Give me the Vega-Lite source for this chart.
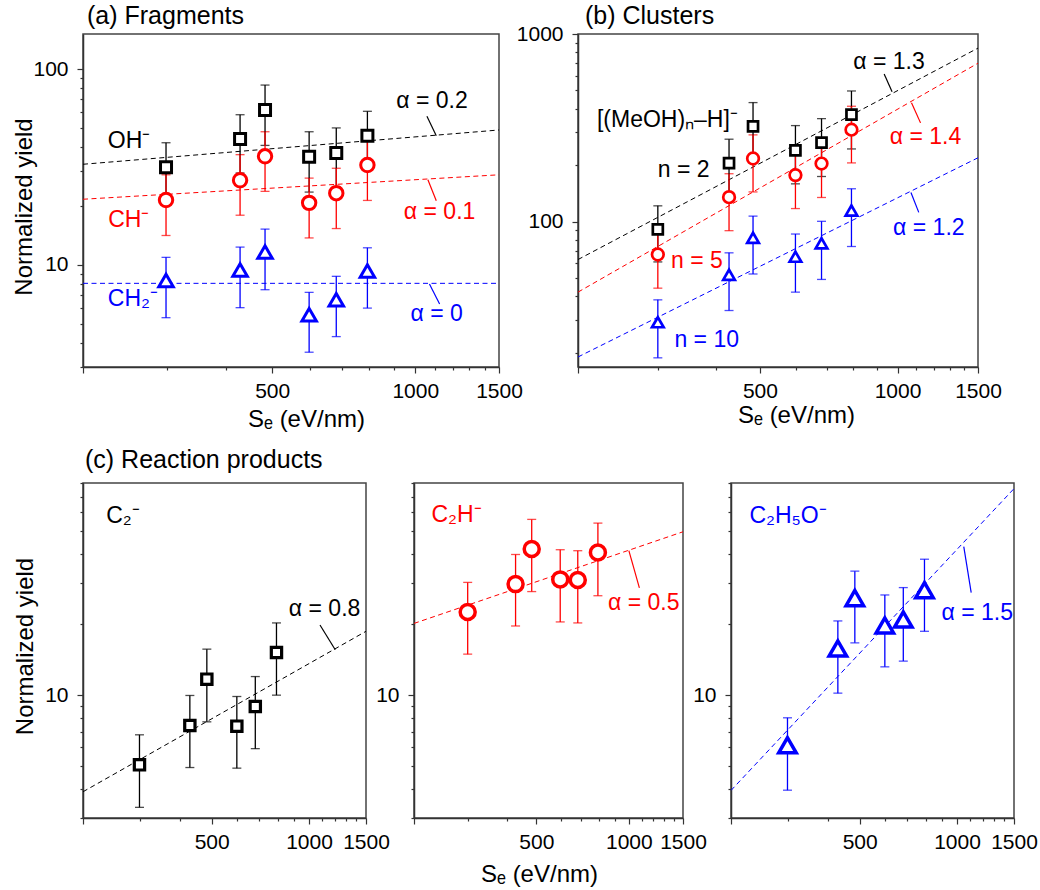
{
"$schema": "https://vega.github.io/schema/vega-lite/v6.json",
"padding": {"left": 11, "top": 2, "right": 5, "bottom": 2},
"background": "white",
"config": {
  "font": "Liberation Sans",
  "view": {"stroke": "#444", "strokeWidth": 1.5},
  "axis": {"labelFont": "Liberation Sans", "labelFontSize": 21, "labelColor": "#000", "titleFont": "Liberation Sans", "titleFontSize": 24, "titleFontWeight": "normal", "titleColor": "#000", "domainColor": "#333", "domainWidth": 1.5, "tickColor": "#333", "tickWidth": 1.2, "grid": false, "labelPadding": 8, "titlePadding": 2, "labelFlush": false, "labelOverlap": false, "tickSize": 6},
  "axisX": {"labelPadding": 7},
  "axisY": {"labelPadding": 9},
  "title": {"font": "Liberation Sans", "fontSize": 25, "fontWeight": "normal", "anchor": "start", "frame": "group", "color": "#000"},
  "text": {"font": "Liberation Sans"}
},
"datasets": {
  "pts": [
    {"p":"a","s":"OH","x":299,"y":31.5,"lo":21,"hi":42},
    {"p":"a","s":"OH","x":428,"y":43.9,"lo":29.4,"hi":58.4},
    {"p":"a","s":"OH","x":483,"y":61.7,"lo":40.7,"hi":82.8},
    {"p":"a","s":"OH","x":598,"y":35.6,"lo":23.5,"hi":47.8},
    {"p":"a","s":"OH","x":682,"y":37.2,"lo":25,"hi":50},
    {"p":"a","s":"OH","x":793,"y":45.6,"lo":30.5,"hi":60.8},
    {"p":"a","s":"CH","x":299,"y":21.4,"lo":14.1,"hi":28.8},
    {"p":"a","s":"CH","x":428,"y":27,"lo":17.9,"hi":36.5},
    {"p":"a","s":"CH","x":483,"y":35.8,"lo":23.7,"hi":47.8},
    {"p":"a","s":"CH","x":598,"y":20.7,"lo":13.7,"hi":27.7},
    {"p":"a","s":"CH","x":682,"y":23.2,"lo":15.3,"hi":31.1},
    {"p":"a","s":"CH","x":793,"y":32.3,"lo":21.3,"hi":43},
    {"p":"a","s":"CH2","x":299,"y":8.3,"lo":5.36,"hi":10.9},
    {"p":"a","s":"CH2","x":428,"y":9.4,"lo":6.03,"hi":12.3},
    {"p":"a","s":"CH2","x":483,"y":11.6,"lo":7.45,"hi":15.2},
    {"p":"a","s":"CH2","x":598,"y":5.55,"lo":3.57,"hi":7.22},
    {"p":"a","s":"CH2","x":682,"y":6.62,"lo":4.29,"hi":8.72},
    {"p":"a","s":"CH2","x":793,"y":9.29,"lo":6.0,"hi":12.2},
    {"p":"b","s":"n2","x":299,"y":91,"lo":61,"hi":121.4},
    {"p":"b","s":"n2","x":428,"y":205,"lo":135,"hi":275},
    {"p":"b","s":"n2","x":483,"y":322,"lo":213,"hi":431},
    {"p":"b","s":"n2","x":598,"y":240,"lo":159,"hi":325},
    {"p":"b","s":"n2","x":682,"y":264,"lo":174,"hi":354},
    {"p":"b","s":"n2","x":793,"y":372,"lo":244,"hi":497},
    {"p":"b","s":"n5","x":299,"y":66.8,"lo":44.2,"hi":89.4},
    {"p":"b","s":"n5","x":428,"y":135,"lo":89.5,"hi":180},
    {"p":"b","s":"n5","x":483,"y":217,"lo":144,"hi":290},
    {"p":"b","s":"n5","x":598,"y":177,"lo":117.4,"hi":237},
    {"p":"b","s":"n5","x":682,"y":204,"lo":134.5,"hi":273},
    {"p":"b","s":"n5","x":793,"y":309,"lo":205.6,"hi":412},
    {"p":"b","s":"n10","x":299,"y":29.1,"lo":18.8,"hi":38.3},
    {"p":"b","s":"n10","x":428,"y":52.1,"lo":33.6,"hi":68.2},
    {"p":"b","s":"n10","x":483,"y":82,"lo":52.6,"hi":107},
    {"p":"b","s":"n10","x":598,"y":65,"lo":42.1,"hi":85.9},
    {"p":"b","s":"n10","x":682,"y":76.7,"lo":49.2,"hi":100.4},
    {"p":"b","s":"n10","x":793,"y":114.6,"lo":73.7,"hi":149.7},
    {"p":"c1","s":"C2","x":299,"y":5.05,"lo":3.33,"hi":6.78},
    {"p":"c1","s":"C2","x":428,"y":7.43,"lo":4.92,"hi":9.97},
    {"p":"c1","s":"C2","x":483,"y":11.7,"lo":7.7,"hi":15.7},
    {"p":"c1","s":"C2","x":598,"y":7.38,"lo":4.89,"hi":9.87},
    {"p":"c1","s":"C2","x":682,"y":8.95,"lo":5.92,"hi":12.0},
    {"p":"c1","s":"C2","x":793,"y":15.2,"lo":10.0,"hi":20.3},
    {"p":"c2","s":"C2H","x":299,"y":22.6,"lo":14.95,"hi":30.2},
    {"p":"c2","s":"C2H","x":428,"y":29.7,"lo":19.7,"hi":39.7},
    {"p":"c2","s":"C2H","x":483,"y":41.9,"lo":27.6,"hi":56},
    {"p":"c2","s":"C2H","x":598,"y":31.1,"lo":20.5,"hi":41.6},
    {"p":"c2","s":"C2H","x":682,"y":30.9,"lo":20.3,"hi":41.2},
    {"p":"c2","s":"C2H","x":793,"y":40.5,"lo":26.5,"hi":54},
    {"p":"c3","s":"C2H5O","x":299,"y":6.12,"lo":3.94,"hi":8.01},
    {"p":"c3","s":"C2H5O","x":428,"y":15.8,"lo":10.2,"hi":20.7},
    {"p":"c3","s":"C2H5O","x":483,"y":25.9,"lo":16.7,"hi":33.7},
    {"p":"c3","s":"C2H5O","x":598,"y":19.8,"lo":13.2,"hi":26.7},
    {"p":"c3","s":"C2H5O","x":682,"y":21.0,"lo":13.96,"hi":28.7},
    {"p":"c3","s":"C2H5O","x":793,"y":28.0,"lo":18.7,"hi":37.9}
  ],
  "fits": [
    {"p":"a","s":"OH","x":200,"y":32.6},{"p":"a","s":"OH","x":1500,"y":48.8},
    {"p":"a","s":"CH","x":200,"y":21.6},{"p":"a","s":"CH","x":1500,"y":28.8},
    {"p":"a","s":"CH2","x":200,"y":8.03},{"p":"a","s":"CH2","x":1500,"y":8.03},
    {"p":"b","s":"n2","x":200,"y":62.8},{"p":"b","s":"n2","x":1500,"y":841},
    {"p":"b","s":"n5","x":200,"y":42.1},{"p":"b","s":"n5","x":1500,"y":699},
    {"p":"b","s":"n10","x":200,"y":19.0},{"p":"b","s":"n10","x":1500,"y":219},
    {"p":"c1","s":"C2","x":200,"y":3.88},{"p":"c1","s":"C2","x":1500,"y":18.7},
    {"p":"c2","s":"C2H","x":200,"y":20.2},{"p":"c2","s":"C2H","x":1500,"y":49.6},
    {"p":"c3","s":"C2H5O","x":200,"y":3.93},{"p":"c3","s":"C2H5O","x":1500,"y":75.7}
  ],
  "leaders": [
    {"p":"a","s":"OH","x":1058,"y":57.3,"x2":1107,"y2":45.6},
    {"p":"a","s":"CH","x":1063,"y":27.2,"x2":1107,"y2":21.2},
    {"p":"a","s":"CH2","x":1071,"y":7.97,"x2":1125,"y2":6.3},
    {"p":"b","s":"n2","x":935,"y":612,"x2":973,"y2":492},
    {"p":"b","s":"n5","x":1073,"y":430,"x2":1123,"y2":336},
    {"p":"b","s":"n10","x":1070,"y":143,"x2":1113,"y2":112},
    {"p":"c1","s":"C2","x":1081,"y":19.9,"x2":1205,"y2":15.6},
    {"p":"c2","s":"C2H","x":1000,"y":41.2,"x2":1082,"y2":28.6},
    {"p":"c3","s":"C2H5O","x":1049,"y":42.9,"x2":1106,"y2":27.3}
  ],
  "labels": [
    {"p":"a","s":"OH","x":225.5,"y":43,"t":"OH⁻"},
    {"p":"a","s":"CH","x":226,"y":17.0,"t":"CH⁻"},
    {"p":"a","s":"CH2","x":225.5,"y":6.68,"t":"CH₂⁻"},
    {"p":"a","s":"OH","x":912,"y":68.9,"t":"α = 0.2"},
    {"p":"a","s":"CH","x":946,"y":18.5,"t":"α = 0.1"},
    {"p":"a","s":"CH2","x":977,"y":5.6,"t":"α = 0"},
    {"p":"b","s":"n2","x":220,"y":348,"t":"[(MeOH)ₙ–H]⁻"},
    {"p":"b","s":"n2","x":299,"y":188,"t":"n = 2"},
    {"p":"b","s":"n5","x":319.6,"y":61.8,"t":"n = 5"},
    {"p":"b","s":"n10","x":325,"y":23.4,"t":"n = 10"},
    {"p":"b","s":"n2","x":800,"y":713,"t":"α = 1.3"},
    {"p":"b","s":"n5","x":962,"y":282,"t":"α = 1.4"},
    {"p":"b","s":"n10","x":978,"y":92.9,"t":"α = 1.2"},
    {"p":"c1","s":"C2","x":236,"y":58.1,"t":"C₂⁻"},
    {"p":"c1","s":"C2","x":866,"y":23.2,"t":"α = 0.8"},
    {"p":"c2","s":"C2H","x":228,"y":58.5,"t":"C₂H⁻"},
    {"p":"c2","s":"C2H","x":855,"y":24.7,"t":"α = 0.5"},
    {"p":"c3","s":"C2H5O","x":228,"y":57.8,"t":"C₂H₅O⁻"},
    {"p":"c3","s":"C2H5O","x":895,"y":22.3,"t":"α = 1.5"}
  ]
},
"spacing": 14,
"vconcat": [
 {"hconcat": [
  {"width": 416, "height": 333,
   "title": {"text": "(a) Fragments", "dx": 4, "offset": 5},
   "encoding": {
     "x": {"field": "x", "type": "quantitative", "scale": {"type": "log", "domain": [200, 1500], "nice": false},
       "axis": {"title": "Sₑ (eV/nm)", "values": [200,300,400,500,600,700,800,900,1000,1100,1200,1300,1400,1500], "format": "d", "labelExpr": "(datum.value==500||datum.value==1000||datum.value==1500)?datum.label:''", "tickSize": {"condition": {"test": "datum.value==200||datum.value==500||datum.value==1000||datum.value==1500", "value": 6}, "value": 3}, "titleX": 223, "titleY": 59, "titleBaseline": "alphabetic"}},
     "y": {"field": "y", "type": "quantitative", "scale": {"type": "log", "domain": [3, 151], "nice": false},
       "axis": {"title": "Normalized yield", "values": [3,4,5,6,7,8,9,10,20,30,40,50,60,70,80,90,100], "format": "d", "labelExpr": "(datum.value==10||datum.value==100)?datum.label:''", "tickSize": {"condition": {"test": "datum.value==10||datum.value==100", "value": 6}, "value": 3}, "titleX": -46.5, "titleY": 172.5}},
     "color": {"field": "s", "type": "nominal", "scale": {"domain": ["OH","CH","CH2","n2","n5","n10","C2","C2H","C2H5O"], "range": ["#000000","#ff0000","#0000ff","#000000","#ff0000","#0000ff","#000000","#ff0000","#0000ff"]}, "legend": null}
   },
   "layer": [
    {"data": {"name": "fits"}, "transform": [{"filter": "datum.p=='a'"}],
     "mark": {"type": "line", "strokeDash": [5, 3.5], "strokeWidth": 1, "clip": true},
     "encoding": {"detail": {"field": "s"}}},
    {"data": {"name": "leaders"}, "transform": [{"filter": "datum.p=='a'"}],
     "mark": {"type": "rule", "strokeWidth": 1.2},
     "encoding": {"x2": {"field": "x2"}, "y2": {"field": "y2"}}},
    {"data": {"name": "pts"}, "transform": [{"filter": "datum.p=='a'"}],
     "mark": {"type": "errorbar", "thickness": 1.3, "ticks": {"size": 9}},
     "encoding": {"y": {"field": "lo", "type": "quantitative", "scale": {"type": "log", "domain": [3, 151], "nice": false},
       "axis": {"title": "Normalized yield", "values": [3,4,5,6,7,8,9,10,20,30,40,50,60,70,80,90,100], "format": "d", "labelExpr": "(datum.value==10||datum.value==100)?datum.label:''", "tickSize": {"condition": {"test": "datum.value==10||datum.value==100", "value": 6}, "value": 3}, "titleX": -46.5, "titleY": 172.5}},
      "y2": {"field": "hi"}}},
    {"data": {"name": "pts"}, "transform": [{"filter": "datum.p=='a'"}],
     "mark": {"type": "point", "filled": false, "fill": "white", "opacity": 1, "strokeWidth": 3},
     "encoding": {
      "shape": {"field": "s", "type": "nominal", "scale": {"domain": ["OH","CH","CH2","n2","n5","n10","C2","C2H","C2H5O"], "range": ["square","circle","triangle-up","square","circle","triangle-up","square","circle","triangle-up"]}, "legend": null},
      "size": {"field": "s", "type": "nominal", "scale": {"type": "ordinal", "domain": ["OH","CH","CH2","n2","n5","n10","C2","C2H","C2H5O"], "range": [121,180,210,100,135,135,106,225,306]}, "legend": null}}},
    {"data": {"name": "labels"}, "transform": [{"filter": "datum.p=='a'"}],
     "mark": {"type": "text", "align": "left", "baseline": "middle", "fontSize": 23},
     "encoding": {"text": {"field": "t"}}}
   ]},
  {"width": 400, "height": 333,
   "title": {"text": "(b) Clusters", "dx": 7, "offset": -5.5},
   "encoding": {
     "x": {"field": "x", "type": "quantitative", "scale": {"type": "log", "domain": [200, 1500], "nice": false},
       "axis": {"title": "Sₑ (eV/nm)", "values": [200,300,400,500,600,700,800,900,1000,1100,1200,1300,1400,1500], "format": "d", "labelExpr": "(datum.value==500||datum.value==1000||datum.value==1500)?datum.label:''", "tickSize": {"condition": {"test": "datum.value==200||datum.value==500||datum.value==1000||datum.value==1500", "value": 6}, "value": 3}, "titleX": 218, "titleY": 55, "titleBaseline": "alphabetic"}},
     "y": {"field": "y", "type": "quantitative", "scale": {"type": "log", "domain": [16.8, 1000], "nice": false},
       "axis": {"title": null, "values": [20,30,40,50,60,70,80,90,100,200,300,400,500,600,700,800,900,1000], "format": "d", "labelExpr": "(datum.value==100||datum.value==1000)?datum.label:''", "tickSize": {"condition": {"test": "datum.value==100||datum.value==1000", "value": 6}, "value": 3}}},
     "color": {"field": "s", "type": "nominal", "scale": {"domain": ["OH","CH","CH2","n2","n5","n10","C2","C2H","C2H5O"], "range": ["#000000","#ff0000","#0000ff","#000000","#ff0000","#0000ff","#000000","#ff0000","#0000ff"]}, "legend": null}
   },
   "layer": [
    {"data": {"name": "fits"}, "transform": [{"filter": "datum.p=='b'"}],
     "mark": {"type": "line", "strokeDash": [5, 3.5], "strokeWidth": 1, "clip": true},
     "encoding": {"detail": {"field": "s"}}},
    {"data": {"name": "leaders"}, "transform": [{"filter": "datum.p=='b'"}],
     "mark": {"type": "rule", "strokeWidth": 1.2},
     "encoding": {"x2": {"field": "x2"}, "y2": {"field": "y2"}}},
    {"data": {"name": "pts"}, "transform": [{"filter": "datum.p=='b'"}],
     "mark": {"type": "errorbar", "thickness": 1.3, "ticks": {"size": 9}},
     "encoding": {"y": {"field": "lo", "type": "quantitative", "scale": {"type": "log", "domain": [16.8, 1000], "nice": false},
       "axis": {"title": null, "values": [20,30,40,50,60,70,80,90,100,200,300,400,500,600,700,800,900,1000], "format": "d", "labelExpr": "(datum.value==100||datum.value==1000)?datum.label:''", "tickSize": {"condition": {"test": "datum.value==100||datum.value==1000", "value": 6}, "value": 3}}},
      "y2": {"field": "hi"}}},
    {"data": {"name": "pts"}, "transform": [{"filter": "datum.p=='b'"}],
     "mark": {"type": "point", "filled": false, "fill": "white", "opacity": 1, "strokeWidth": 2.7},
     "encoding": {
      "shape": {"field": "s", "type": "nominal", "scale": {"domain": ["OH","CH","CH2","n2","n5","n10","C2","C2H","C2H5O"], "range": ["square","circle","triangle-up","square","circle","triangle-up","square","circle","triangle-up"]}, "legend": null},
      "size": {"field": "s", "type": "nominal", "scale": {"type": "ordinal", "domain": ["OH","CH","CH2","n2","n5","n10","C2","C2H","C2H5O"], "range": [121,180,210,100,135,135,106,225,306]}, "legend": null}}},
    {"data": {"name": "labels"}, "transform": [{"filter": "datum.p=='b'"}],
     "mark": {"type": "text", "align": "left", "baseline": "middle", "fontSize": 23},
     "encoding": {"text": {"field": "t"}}}
   ]}
 ], "spacing": 79, "bounds": "flush"},
 {"hconcat": [
  {"width": 283, "height": 335,
   "title": {"text": "(c) Reaction products", "dx": 2, "offset": -0.5},
   "encoding": {
     "x": {"field": "x", "type": "quantitative", "scale": {"type": "log", "domain": [200, 1500], "nice": false},
       "axis": {"title": null, "values": [200,300,400,500,600,700,800,900,1000,1100,1200,1300,1400,1500], "format": "d", "labelExpr": "(datum.value==500||datum.value==1000||datum.value==1500)?datum.label:''", "tickSize": {"condition": {"test": "datum.value==200||datum.value==500||datum.value==1000||datum.value==1500", "value": 6}, "value": 3}}},
     "y": {"field": "y", "type": "quantitative", "scale": {"type": "log", "domain": [3, 80], "nice": false},
       "axis": {"title": "Normalized yield", "values": [3,4,5,6,7,8,9,10,20,30,40,50,60,70,80], "format": "d", "labelExpr": "(datum.value==10)?datum.label:''", "tickSize": {"condition": {"test": "datum.value==10", "value": 6}, "value": 3}, "titleX": -45.5, "titleY": 163}},
     "color": {"field": "s", "type": "nominal", "scale": {"domain": ["OH","CH","CH2","n2","n5","n10","C2","C2H","C2H5O"], "range": ["#000000","#ff0000","#0000ff","#000000","#ff0000","#0000ff","#000000","#ff0000","#0000ff"]}, "legend": null}
   },
   "layer": [
    {"data": {"name": "fits"}, "transform": [{"filter": "datum.p=='c1'"}],
     "mark": {"type": "line", "strokeDash": [5, 3.5], "strokeWidth": 1, "clip": true},
     "encoding": {"detail": {"field": "s"}}},
    {"data": {"name": "leaders"}, "transform": [{"filter": "datum.p=='c1'"}],
     "mark": {"type": "rule", "strokeWidth": 1.2},
     "encoding": {"x2": {"field": "x2"}, "y2": {"field": "y2"}}},
    {"data": {"name": "pts"}, "transform": [{"filter": "datum.p=='c1'"}],
     "mark": {"type": "errorbar", "thickness": 1.3, "ticks": {"size": 9}},
     "encoding": {"y": {"field": "lo", "type": "quantitative", "scale": {"type": "log", "domain": [3, 80], "nice": false},
       "axis": {"title": "Normalized yield", "values": [3,4,5,6,7,8,9,10,20,30,40,50,60,70,80], "format": "d", "labelExpr": "(datum.value==10)?datum.label:''", "tickSize": {"condition": {"test": "datum.value==10", "value": 6}, "value": 3}, "titleX": -45.5, "titleY": 163}},
      "y2": {"field": "hi"}}},
    {"data": {"name": "pts"}, "transform": [{"filter": "datum.p=='c1'"}],
     "mark": {"type": "point", "filled": false, "fill": "white", "opacity": 1, "strokeWidth": 3.2},
     "encoding": {
      "shape": {"field": "s", "type": "nominal", "scale": {"domain": ["OH","CH","CH2","n2","n5","n10","C2","C2H","C2H5O"], "range": ["square","circle","triangle-up","square","circle","triangle-up","square","circle","triangle-up"]}, "legend": null},
      "size": {"field": "s", "type": "nominal", "scale": {"type": "ordinal", "domain": ["OH","CH","CH2","n2","n5","n10","C2","C2H","C2H5O"], "range": [121,180,210,100,135,135,106,225,306]}, "legend": null}}},
    {"data": {"name": "labels"}, "transform": [{"filter": "datum.p=='c1'"}],
     "mark": {"type": "text", "align": "left", "baseline": "middle", "fontSize": 23},
     "encoding": {"text": {"field": "t"}}}
   ]},
  {"width": 269, "height": 335,
   "encoding": {
     "x": {"field": "x", "type": "quantitative", "scale": {"type": "log", "domain": [200, 1500], "nice": false},
       "axis": {"title": "Sₑ (eV/nm)", "values": [200,300,400,500,600,700,800,900,1000,1100,1200,1300,1400,1500], "format": "d", "labelExpr": "(datum.value==500||datum.value==1000||datum.value==1500)?datum.label:''", "tickSize": {"condition": {"test": "datum.value==200||datum.value==500||datum.value==1000||datum.value==1500", "value": 6}, "value": 3}, "titleX": 125, "titleY": 63, "titleBaseline": "alphabetic"}},
     "y": {"field": "y", "type": "quantitative", "scale": {"type": "log", "domain": [3, 80], "nice": false},
       "axis": {"title": null, "values": [3,4,5,6,7,8,9,10,20,30,40,50,60,70,80], "format": "d", "labelExpr": "(datum.value==10)?datum.label:''", "tickSize": {"condition": {"test": "datum.value==10", "value": 6}, "value": 3}}},
     "color": {"field": "s", "type": "nominal", "scale": {"domain": ["OH","CH","CH2","n2","n5","n10","C2","C2H","C2H5O"], "range": ["#000000","#ff0000","#0000ff","#000000","#ff0000","#0000ff","#000000","#ff0000","#0000ff"]}, "legend": null}
   },
   "layer": [
    {"data": {"name": "fits"}, "transform": [{"filter": "datum.p=='c2'"}],
     "mark": {"type": "line", "strokeDash": [5, 3.5], "strokeWidth": 1, "clip": true},
     "encoding": {"detail": {"field": "s"}}},
    {"data": {"name": "leaders"}, "transform": [{"filter": "datum.p=='c2'"}],
     "mark": {"type": "rule", "strokeWidth": 1.2},
     "encoding": {"x2": {"field": "x2"}, "y2": {"field": "y2"}}},
    {"data": {"name": "pts"}, "transform": [{"filter": "datum.p=='c2'"}],
     "mark": {"type": "errorbar", "thickness": 1.3, "ticks": {"size": 9}},
     "encoding": {"y": {"field": "lo", "type": "quantitative", "scale": {"type": "log", "domain": [3, 80], "nice": false},
       "axis": {"title": null, "values": [3,4,5,6,7,8,9,10,20,30,40,50,60,70,80], "format": "d", "labelExpr": "(datum.value==10)?datum.label:''", "tickSize": {"condition": {"test": "datum.value==10", "value": 6}, "value": 3}}},
      "y2": {"field": "hi"}}},
    {"data": {"name": "pts"}, "transform": [{"filter": "datum.p=='c2'"}],
     "mark": {"type": "point", "filled": false, "fill": "white", "opacity": 1, "strokeWidth": 3.5},
     "encoding": {
      "shape": {"field": "s", "type": "nominal", "scale": {"domain": ["OH","CH","CH2","n2","n5","n10","C2","C2H","C2H5O"], "range": ["square","circle","triangle-up","square","circle","triangle-up","square","circle","triangle-up"]}, "legend": null},
      "size": {"field": "s", "type": "nominal", "scale": {"type": "ordinal", "domain": ["OH","CH","CH2","n2","n5","n10","C2","C2H","C2H5O"], "range": [121,180,210,100,135,135,106,225,306]}, "legend": null}}},
    {"data": {"name": "labels"}, "transform": [{"filter": "datum.p=='c2'"}],
     "mark": {"type": "text", "align": "left", "baseline": "middle", "fontSize": 23},
     "encoding": {"text": {"field": "t"}}}
   ]},
  {"width": 283, "height": 335,
   "encoding": {
     "x": {"field": "x", "type": "quantitative", "scale": {"type": "log", "domain": [200, 1500], "nice": false},
       "axis": {"title": null, "values": [200,300,400,500,600,700,800,900,1000,1100,1200,1300,1400,1500], "format": "d", "labelExpr": "(datum.value==500||datum.value==1000||datum.value==1500)?datum.label:''", "tickSize": {"condition": {"test": "datum.value==200||datum.value==500||datum.value==1000||datum.value==1500", "value": 6}, "value": 3}}},
     "y": {"field": "y", "type": "quantitative", "scale": {"type": "log", "domain": [3, 80], "nice": false},
       "axis": {"title": null, "values": [3,4,5,6,7,8,9,10,20,30,40,50,60,70,80], "format": "d", "labelExpr": "(datum.value==10)?datum.label:''", "tickSize": {"condition": {"test": "datum.value==10", "value": 6}, "value": 3}}},
     "color": {"field": "s", "type": "nominal", "scale": {"domain": ["OH","CH","CH2","n2","n5","n10","C2","C2H","C2H5O"], "range": ["#000000","#ff0000","#0000ff","#000000","#ff0000","#0000ff","#000000","#ff0000","#0000ff"]}, "legend": null}
   },
   "layer": [
    {"data": {"name": "fits"}, "transform": [{"filter": "datum.p=='c3'"}],
     "mark": {"type": "line", "strokeDash": [5, 3.5], "strokeWidth": 1, "clip": true},
     "encoding": {"detail": {"field": "s"}}},
    {"data": {"name": "leaders"}, "transform": [{"filter": "datum.p=='c3'"}],
     "mark": {"type": "rule", "strokeWidth": 1.2},
     "encoding": {"x2": {"field": "x2"}, "y2": {"field": "y2"}}},
    {"data": {"name": "pts"}, "transform": [{"filter": "datum.p=='c3'"}],
     "mark": {"type": "errorbar", "thickness": 1.3, "ticks": {"size": 9}},
     "encoding": {"y": {"field": "lo", "type": "quantitative", "scale": {"type": "log", "domain": [3, 80], "nice": false},
       "axis": {"title": null, "values": [3,4,5,6,7,8,9,10,20,30,40,50,60,70,80], "format": "d", "labelExpr": "(datum.value==10)?datum.label:''", "tickSize": {"condition": {"test": "datum.value==10", "value": 6}, "value": 3}}},
      "y2": {"field": "hi"}}},
    {"data": {"name": "pts"}, "transform": [{"filter": "datum.p=='c3'"}],
     "mark": {"type": "point", "filled": false, "fill": "white", "opacity": 1, "strokeWidth": 3.5},
     "encoding": {
      "shape": {"field": "s", "type": "nominal", "scale": {"domain": ["OH","CH","CH2","n2","n5","n10","C2","C2H","C2H5O"], "range": ["square","circle","triangle-up","square","circle","triangle-up","square","circle","triangle-up"]}, "legend": null},
      "size": {"field": "s", "type": "nominal", "scale": {"type": "ordinal", "domain": ["OH","CH","CH2","n2","n5","n10","C2","C2H","C2H5O"], "range": [121,180,210,100,135,135,106,225,306]}, "legend": null}}},
    {"data": {"name": "labels"}, "transform": [{"filter": "datum.p=='c3'"}],
     "mark": {"type": "text", "align": "left", "baseline": "middle", "fontSize": 23},
     "encoding": {"text": {"field": "t"}}}
   ]}
 ], "spacing": 48, "bounds": "flush"}
]
}
